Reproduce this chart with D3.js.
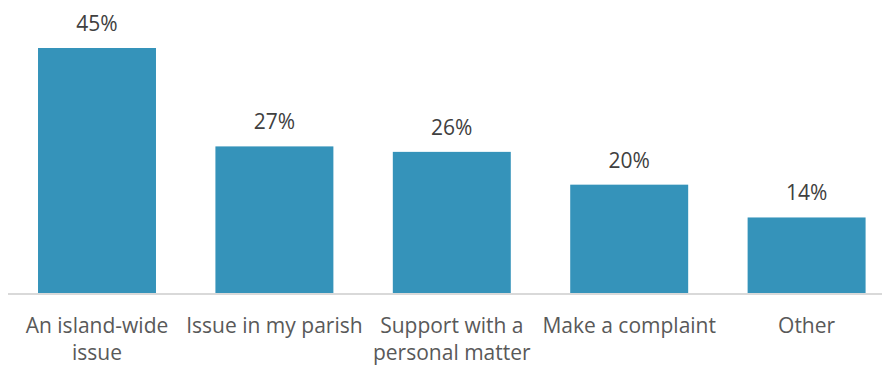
<!DOCTYPE html>
<html><head><meta charset="utf-8">
<script src="https://cdn.jsdelivr.net/npm/d3@7"></script>
<style>body{margin:0;background:#fff}svg{display:block}</style>
</head><body>
<svg id="c" width="882" height="367"></svg>
<script>
const categories = [["An island-wide","issue"],["Issue in my parish"],["Support with a","personal matter"],["Make a complaint"],["Other"]];
const values = [45, 27, 26, 20, 14];
const labels = ["45%","27%","26%","20%","14%"];

const svg = d3.select("#c");
const ids = d3.range(values.length);
const x = d3.scaleBand().domain(ids).range([8.3, 895.3]).paddingInner(0.335).paddingOuter(0.1675);
const y = d3.scaleLinear().domain([0, 45]).range([294, 48]);
const font = "'Open Sans', sans-serif";

svg.selectAll("rect.bar").data(values).join("rect")
  .attr("class","bar")
  .attr("x",(d,i)=>x(i)).attr("width",x.bandwidth())
  .attr("y",d=>y(d)).attr("height",d=>y(0)-y(d))
  .attr("fill","#3593ba");

svg.append("line").attr("x1",8).attr("x2",882).attr("y1",y(0)).attr("y2",y(0))
  .attr("stroke","#d9d9d9").attr("stroke-width",2);

svg.selectAll("text.val").data(values).join("text")
  .attr("class","val")
  .attr("x",(d,i)=>x(i)+x.bandwidth()/2).attr("y",d=>y(d)-17)
  .attr("text-anchor","middle").attr("font-family",font).attr("font-size",21)
  .attr("fill","#404040").text((d,i)=>labels[i]);

const cat = svg.selectAll("text.cat").data(categories).join("text")
  .attr("class","cat").attr("text-anchor","middle")
  .attr("font-family",font).attr("font-size",21).attr("fill","#595959");
cat.each(function(lines,i){
  d3.select(this).selectAll("tspan").data(lines).join("tspan")
    .attr("x",x(i)+x.bandwidth()/2).attr("y",(l,j)=>333+j*27).text(l=>l);
});
</script>
</body></html>
